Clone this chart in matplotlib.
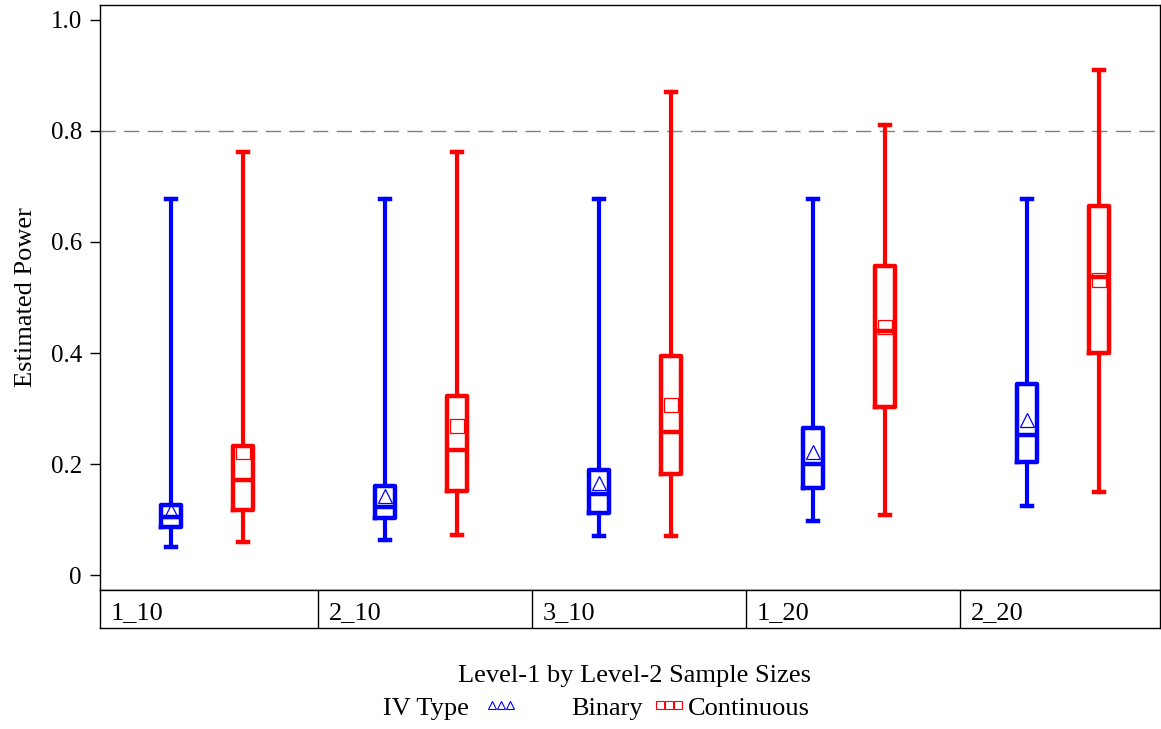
import matplotlib
matplotlib.use('Agg')
import matplotlib.pyplot as plt
import numpy as np

plt.rcParams['font.family'] = ['Liberation Serif', 'DejaVu Serif']

groups = ['1_10', '2_10', '3_10', '1_20', '2_20']

# Binary IV
bin_lo = [0.050, 0.063, 0.070, 0.097, 0.124]
bin_q1 = [0.086, 0.102, 0.112, 0.157, 0.204]
bin_med = [0.104, 0.123, 0.146, 0.200, 0.252]
bin_q3 = [0.126, 0.160, 0.189, 0.264, 0.344]
bin_hi = [0.678, 0.678, 0.678, 0.678, 0.678]
bin_mean = [0.115, 0.142, 0.165, 0.222, 0.279]

# Continuous IV
cont_lo = [0.059, 0.072, 0.070, 0.108, 0.150]
cont_q1 = [0.117, 0.151, 0.182, 0.303, 0.400]
cont_med = [0.171, 0.225, 0.258, 0.440, 0.537]
cont_q3 = [0.232, 0.323, 0.395, 0.557, 0.665]
cont_hi = [0.762, 0.762, 0.870, 0.811, 0.910]
cont_mean = [0.221, 0.268, 0.307, 0.446, 0.532]

BLUE = '#0000ff'
RED = '#ff0000'
FS = 19
TFS = 18


def make_stats(lo, q1, med, q3, hi, mean):
    return [dict(whislo=a, q1=b, med=c, q3=d, whishi=e, mean=f, fliers=[])
            for a, b, c, d, e, f in zip(lo, q1, med, q3, hi, mean)]


fig = plt.figure(figsize=(11.61, 7.29), dpi=100)
W, H = 1161, 729
ax = fig.add_axes([100 / W, (H - 590) / H, 1060 / W, 585 / H])

unit = 214 / 3
xmax = 1060 / unit
n = len(groups)
pos_bin = [3 * i + 1 for i in range(n)]
pos_cont = [3 * i + 2 for i in range(n)]

for stats, pos, col, mk, ms in [
        (make_stats(bin_lo, bin_q1, bin_med, bin_q3, bin_hi, bin_mean), pos_bin, BLUE, '^', 10.5),
        (make_stats(cont_lo, cont_q1, cont_med, cont_q3, cont_hi, cont_mean), pos_cont, RED, 's', 10)]:
    ax.bxp(stats, positions=pos, widths=0.28, capwidths=0.14, showmeans=True,
           showfliers=False, patch_artist=False,
           boxprops=dict(color=col, linewidth=3.2),
           whiskerprops=dict(color=col, linewidth=3.0),
           capprops=dict(color=col, linewidth=3.2),
           medianprops=dict(color=col, linewidth=3.2),
           meanprops=dict(marker=mk, markerfacecolor='none', markeredgecolor=col,
                          markeredgewidth=0.9, markersize=ms))

ax.axhline(0.8, color='#808080', linewidth=1.0, dashes=(11, 6), zorder=0)

ax.set_xlim(0, xmax)
ax.set_ylim(-0.027, 1.027)
ax.set_xticks([])
ax.set_yticks([0, 0.2, 0.4, 0.6, 0.8, 1.0])
ax.set_yticklabels(['0', '0.2', '0.4', '0.6', '0.8', '1.0'])
ax.tick_params(axis='y', direction='out', length=7, width=1, labelsize=TFS, pad=6)
ax.set_ylabel('Estimated Power', fontsize=FS, labelpad=10)
for s in ax.spines.values():
    s.set_linewidth(1.0)

# table row with group labels
tab = fig.add_axes([100 / W, (H - 628) / H, 1060 / W, 38 / H])
tab.set_xlim(0, xmax)
tab.set_ylim(0, 1)
tab.set_xticks([])
tab.set_yticks([])
for s in tab.spines.values():
    s.set_linewidth(1.0)
for i, g in enumerate(groups):
    edge = 3 * i + (0.06 if i > 0 else 0)
    if i > 0:
        tab.axvline(edge, color='black', linewidth=1.0)
    tab.text(edge + 0.15, 0.40, g, fontsize=FS, ha='left', va='center')

fig.text(635 / W, 1 - 676 / H, 'Level-1 by Level-2 Sample Sizes', fontsize=FS,
         ha='center', va='center')

# legend row
ly = 1 - 709 / H
fig.text(383 / W, ly, 'IV Type', fontsize=FS, ha='left', va='center')
fig.text(571 / W, ly, 'Binary', fontsize=FS, ha='left', va='center')
fig.text(688 / W, ly, 'Continuous', fontsize=FS, ha='left', va='center')
lx_bin = np.array([492, 501, 510]) / W
lx_cont = np.array([660, 669, 678]) / W
fig.add_artist(plt.Line2D(lx_bin, [1 - 705 / H] * 3, transform=fig.transFigure,
                          linestyle='none', marker='^', markersize=6,
                          markerfacecolor='none', markeredgecolor=BLUE, markeredgewidth=0.8))
fig.add_artist(plt.Line2D(lx_cont, [1 - 705 / H] * 3, transform=fig.transFigure,
                          linestyle='none', marker='s', markersize=6,
                          markerfacecolor='none', markeredgecolor=RED, markeredgewidth=0.8))

fig.savefig('out.png', dpi=100)
